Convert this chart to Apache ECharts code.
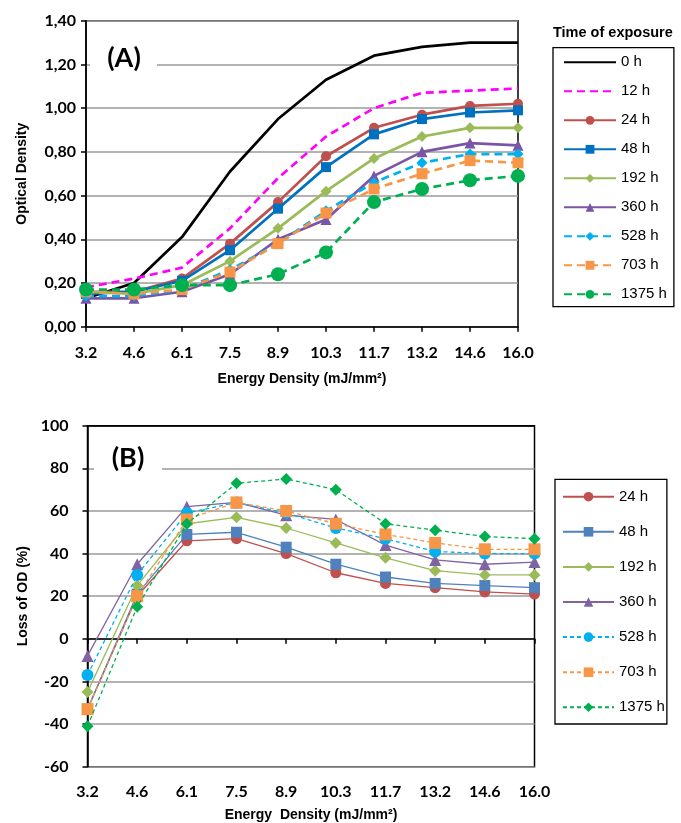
<!DOCTYPE html>
<html><head><meta charset="utf-8">
<script src="https://cdn.jsdelivr.net/npm/echarts@6/dist/echarts.min.js"></script>
<style>html,body{margin:0;padding:0;background:#fff}#c{width:681px;height:823px}</style>
</head><body><div id="c"></div>
<script>
// ---- data ----
const categories = ['3.2','4.6','6.1','7.5','8.9','10.3','11.7','13.2','14.6','16.0'];
const namesA = ['0 h','12 h','24 h','48 h','192 h','360 h','528 h','703 h','1375 h'];
const namesB = ['24 h','48 h','192 h','360 h','528 h','703 h','1375 h'];
// Chart A: optical density
const odA_0h    = [0.13, 0.20, 0.41, 0.71, 0.95, 1.13, 1.24, 1.28, 1.30, 1.30];
const odA_12h   = [0.18, 0.22, 0.27, 0.45, 0.68, 0.87, 1.00, 1.07, 1.08, 1.09];
const odA_24h   = [0.16, 0.16, 0.22, 0.38, 0.57, 0.78, 0.91, 0.97, 1.01, 1.02];
const odA_48h   = [0.15, 0.16, 0.21, 0.35, 0.54, 0.73, 0.88, 0.95, 0.98, 0.99];
const odA_192h  = [0.16, 0.15, 0.19, 0.30, 0.45, 0.62, 0.77, 0.87, 0.91, 0.91];
const odA_360h  = [0.13, 0.13, 0.16, 0.24, 0.40, 0.49, 0.69, 0.80, 0.84, 0.83];
const odA_528h  = [0.14, 0.14, 0.17, 0.26, 0.38, 0.53, 0.66, 0.75, 0.79, 0.79];
const odA_703h  = [0.16, 0.15, 0.17, 0.25, 0.38, 0.52, 0.63, 0.70, 0.76, 0.75];
const odA_1375h = [0.17, 0.17, 0.19, 0.19, 0.24, 0.34, 0.57, 0.63, 0.67, 0.69];
// Chart B: loss of OD (%)
const lossB_24h   = [-33, 20, 46, 47, 40, 31, 26, 24, 22, 21];
const lossB_48h   = [-33, 21, 49, 50, 43, 35, 29, 26, 25, 24];
const lossB_192h  = [-25, 25, 54, 57, 52, 45, 38, 32, 30, 30];
const lossB_360h  = [-8, 35, 62, 64, 58, 56, 44, 37, 35, 36];
const lossB_528h  = [-17, 30, 59, 64, 59, 52, 47, 41, 40, 40];
const lossB_703h  = [-33, 20, 56, 64, 60, 54, 49, 45, 42, 42];
const lossB_1375h = [-41, 15, 54, 73, 75, 70, 54, 51, 48, 47];
// axis ticks
const yA = {min: 0, max: 1.4, interval: 0.2};
const yB = {min: -60, max: 100, interval: 20};

const dataA = [odA_0h, odA_12h, odA_24h, odA_48h, odA_192h, odA_360h, odA_528h, odA_703h, odA_1375h];
const dataB = [lossB_24h, lossB_48h, lossB_192h, lossB_360h, lossB_528h, lossB_703h, lossB_1375h];

const styleA = [
  {c:'#000000', dash:'solid', sym:'none', size:0},
  {c:'#FF00FF', dash:[8,5], sym:'none', size:0},
  {c:'#C0504D', dash:'solid', sym:'circle', size:10},
  {c:'#0070C0', dash:'solid', sym:'rect', size:10},
  {c:'#9BBB59', dash:'solid', sym:'diamond', size:11},
  {c:'#7A55A6', dash:'solid', sym:'triangle', size:11},
  {c:'#00B0F0', dash:[8,5], sym:'diamond', size:11},
  {c:'#F79646', dash:[8,5], sym:'rect', size:11},
  {c:'#00B050', dash:[8,5], sym:'circle', size:14}
];
const styleB = [
  {c:'#C0504D', dash:'solid', sym:'circle', size:11},
  {c:'#4F81BD', dash:'solid', sym:'rect', size:11},
  {c:'#9BBB59', dash:'solid', sym:'diamond', size:12},
  {c:'#8064A2', dash:'solid', sym:'triangle', size:12},
  {c:'#00B0F0', dash:[4,3], sym:'circle', size:12},
  {c:'#F79646', dash:[4,3], sym:'rect', size:12},
  {c:'#00B050', dash:[4,3], sym:'diamond', size:12}
];

const series = [];
namesA.forEach((n, i) => {
  const s = styleA[i];
  series.push({
    name: n, type: 'line', xAxisIndex: 0, yAxisIndex: 0, data: dataA[i],
    symbol: s.sym, symbolSize: s.size, showSymbol: s.sym !== 'none',
    lineStyle: {color: s.c, width: 2.7, type: s.dash},
    itemStyle: {color: s.c}, emphasis: {disabled: true}, z: 2 + i
  });
});
namesB.forEach((n, i) => {
  const s = styleB[i];
  series.push({
    name: n + ' ', type: 'line', xAxisIndex: 1, yAxisIndex: 1, data: dataB[i],
    symbol: s.sym, symbolSize: s.size,
    lineStyle: {color: s.c, width: 1.3, type: s.dash},
    itemStyle: {color: s.c}, emphasis: {disabled: true}, z: 2 + i
  });
});

const tickFont = {fontFamily: 'Lato', fontWeight: 'bold', fontSize: 16, color: '#000'};
const nameFont = {fontFamily: 'Liberation Sans', fontWeight: 'bold', fontSize: 14, color: '#000'};

const legendDataA = namesA.map((n, i) => styleA[i].sym === 'none'
  ? {name: n, itemStyle: {opacity: 0, color: 'rgba(0,0,0,0)', borderWidth: 0}}
  : {name: n});

const option = {
  animation: false,
  backgroundColor: '#fff',
  grid: [
    {left: 86, top: 20.7, width: 432, height: 306, show: true, borderColor: '#000', borderWidth: 1.5, containLabel: false},
    {left: 87.5, top: 425.7, width: 447, height: 341, show: true, borderColor: '#000', borderWidth: 1.5, containLabel: false}
  ],
  xAxis: [
    {gridIndex: 0, type: 'category', data: categories, boundaryGap: false,
     axisLine: {lineStyle: {color: '#000', width: 1.5}},
     axisTick: {show: true, length: 5, lineStyle: {color: '#000', width: 1.5}},
     axisLabel: Object.assign({margin: 18}, tickFont),
     splitLine: {show: false},
     name: 'Energy Density (mJ/mm²)', nameLocation: 'middle', nameGap: 45, nameTextStyle: nameFont},
    {gridIndex: 1, type: 'category', data: categories, boundaryGap: false,
     axisLine: {lineStyle: {color: '#000', width: 1.5}},
     axisTick: {show: true, length: 5, lineStyle: {color: '#000', width: 1.5}},
     axisLabel: Object.assign({margin: 17}, tickFont),
     splitLine: {show: false},
     name: 'Energy  Density (mJ/mm²)', nameLocation: 'middle', nameGap: 41, nameTextStyle: nameFont}
  ],
  yAxis: [
    {gridIndex: 0, type: 'value', min: yA.min, max: yA.max, interval: yA.interval,
     axisLine: {show: true, lineStyle: {color: '#000', width: 1.5}},
     axisTick: {show: true, length: 5, lineStyle: {color: '#000', width: 1.5}},
     axisLabel: Object.assign({margin: 10, formatter: v => v.toFixed(2).replace('.', ',')}, tickFont),
     splitLine: {show: true, lineStyle: {color: '#9A9A9A', width: 1.5}},
     name: 'Optical Density', nameLocation: 'middle', nameGap: 57, nameTextStyle: nameFont},
    {gridIndex: 1, type: 'value', min: yB.min, max: yB.max, interval: yB.interval,
     axisLine: {show: true, lineStyle: {color: '#000', width: 1.5}},
     axisTick: {show: true, length: 5, lineStyle: {color: '#000', width: 1.5}},
     axisLabel: Object.assign({margin: 19}, tickFont),
     splitLine: {show: true, lineStyle: {color: ['#9A9A9A','#9A9A9A','#9A9A9A','#9A9A9A','#9A9A9A','#9A9A9A','#9A9A9A','#9A9A9A','#000'], width: 1.5}},
     name: 'Loss of OD (%)', nameLocation: 'middle', nameGap: 52, nameTextStyle: nameFont}
  ],
  legend: [
    {data: legendDataA, orient: 'vertical', left: 553, top: 47.7,
     itemWidth: 52, itemHeight: 11, itemGap: 14, padding: [7.1, 7, 4.9, 10],
     borderColor: '#000', borderWidth: 1.3, selectedMode: false,
     textStyle: {fontFamily: 'Liberation Sans', fontSize: 15, color: '#000'}},
    {data: namesB.map(n => n + ' '), orient: 'vertical', left: 555, top: 479.3,
     itemWidth: 51, itemHeight: 12, itemGap: 20.1, padding: [9.9, 2, 9.2, 7],
     borderColor: '#000', borderWidth: 1.3, selectedMode: false,
     formatter: n => n.trim(),
     textStyle: {fontFamily: 'Liberation Sans', fontSize: 15, color: '#000'}}
  ],
  graphic: [
    {type: 'text', left: 553, top: 25, z: 100,
     style: {text: 'Time of exposure', font: 'bold 14.5px "Liberation Sans"', fill: '#000', width: 121, align: 'center'}},
    {type: 'rect', shape: {x: 90, y: 42, width: 67, height: 38}, style: {fill: '#fff'}, z: 50},
    {type: 'text', x: 124, y: 58.5, z: 51,
     style: {text: '(A)', font: 'bold 27px Lato', fill: '#000', align: 'center', verticalAlign: 'middle'}},
    {type: 'rect', shape: {x: 94, y: 440, width: 68, height: 38}, style: {fill: '#fff'}, z: 50},
    {type: 'text', x: 128, y: 458.5, z: 51,
     style: {text: '(B)', font: 'bold 27px Lato', fill: '#000', align: 'center', verticalAlign: 'middle'}}
  ],
  series: series
};
const chart = echarts.init(document.getElementById('c'), null, {renderer: 'canvas'});
chart.setOption(option);
</script></body></html>
